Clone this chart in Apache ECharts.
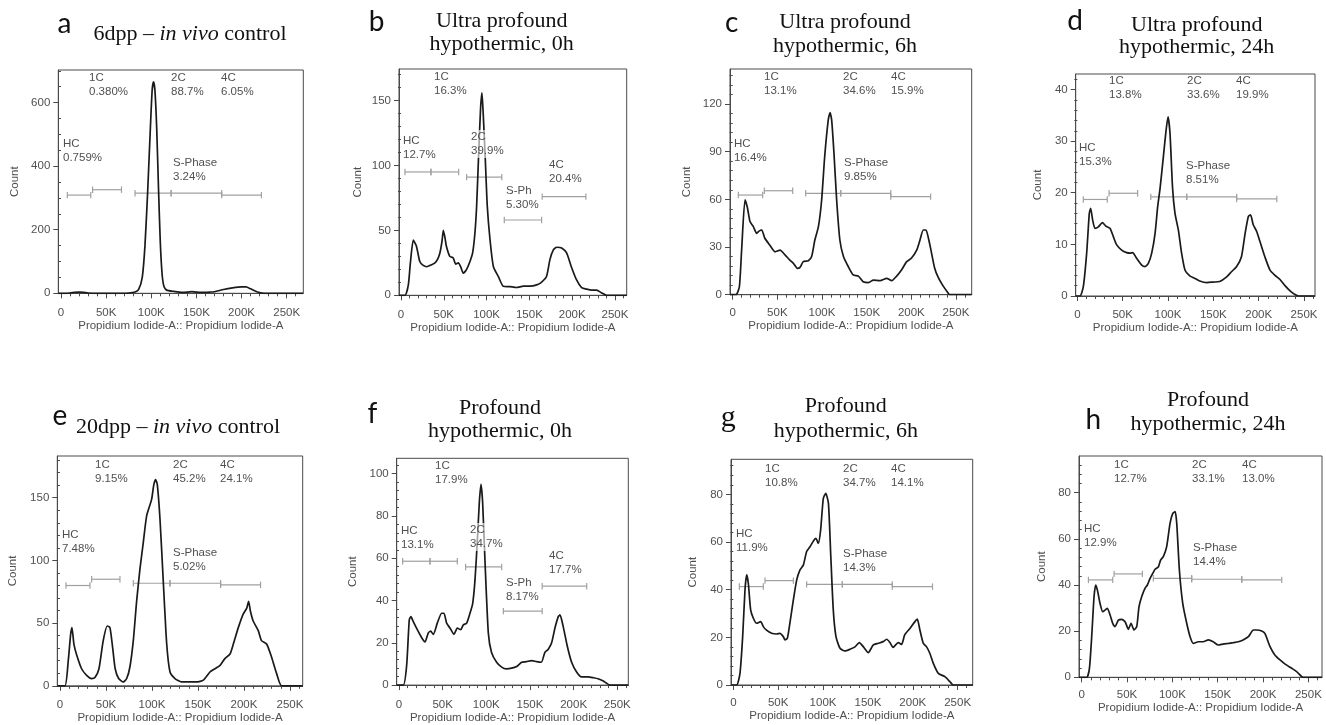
<!DOCTYPE html>
<html><head><meta charset="utf-8">
<script src="https://cdn.jsdelivr.net/npm/echarts@6/dist/echarts.min.js"></script>
<style>html,body{margin:0;padding:0;background:#fff}#chart{width:1326px;height:725px}</style>
</head><body><div id="chart"></div>
<script>
// ---------------- DATA ----------------
const panelLetters = ['a','b','c','d','e','f','g','h'];
const panelTitles = [
  ['6dpp – {i|in vivo} control'],
  ['Ultra profound','hypothermic, 0h'],
  ['Ultra profound','hypothermic, 6h'],
  ['Ultra profound','hypothermic, 24h'],
  ['20dpp – {i|in vivo} control'],
  ['Profound','hypothermic, 0h'],
  ['Profound','hypothermic, 6h'],
  ['Profound','hypothermic, 24h']
];
const xAxisName = 'Propidium Iodide-A:: Propidium Iodide-A';
const yAxisName = 'Count';
const xTickValues = [0,50,100,150,200,250];          // in K
const yTickValues = [
  [0,200,400,600],[0,50,100,150],[0,30,60,90,120],[0,10,20,30,40],
  [0,50,100,150],[0,20,40,60,80,100],[0,20,40,60,80],[0,20,40,60,80]
];

// histogram curves: [PI-A (K), count]
const curveA = [[-3,0],[5,0],[10,1],[15,3],[20,4],[25,3],[30,1],[40,0],[60,0],[75,1],[82,4],[86,12],[90,50],[93,150],[96,320],[99,520],[101,640],[102.5,665],[104,640],[106,520],[108,330],[110,160],[112,60],[114,22],[117,10],[125,6],[135,3],[145,5],[155,3],[165,4],[170,5],[180,12],[190,17],[200,20],[205,20],[210,14],[215,7],[220,2],[225,0],[268,0]];
const curveB = [[-2.3,0],[4.7,0],[8.6,8],[11,25],[14.4,42.5],[18,38],[22,26],[26,23],[30,22],[35.8,23.6],[39.7,25],[43,28],[45.6,33],[48,42],[49.5,50],[51.5,44],[53,38],[57,30],[61,28.8],[64,24],[67,25],[69.7,22],[72.8,17],[76.7,20],[80.6,26],[83.7,32.6],[86.4,48],[88.4,69],[91,113],[93,144],[94.6,156],[96,141],[98.5,105],[100.8,69],[104,43],[108,22],[113.7,14.5],[119.5,7],[127,6.7],[135,6],[143,7],[150.7,7],[158.5,8],[164,10],[170,14.5],[174,27.5],[178,35],[182,37],[187.7,36.5],[193.5,32.6],[199,22],[205,12],[211,6],[217,4.7],[223,4],[228.6,4],[234,2],[240,0],[263.7,0]];
const curveC = [[-3,0],[3.7,0],[7.5,5],[10,28],[13.8,59.6],[16.4,55],[19.4,46],[23,43],[26.9,38.6],[29.5,40],[32.5,40.7],[36,35.5],[41.8,31],[47.4,27],[53,28],[58.6,25],[64,21.8],[68,19.7],[72.4,16.6],[75.4,17.2],[79,20.8],[84.7,21.4],[88.4,24],[92,34.4],[96,42.8],[99.6,59.6],[103,86.8],[107,110],[109,114.5],[110.8,110],[113.4,89],[116.4,59.6],[120,34.4],[124,24],[129.5,17.6],[135,12.4],[140.7,11.7],[146,8.2],[152,7.6],[157.5,9.2],[165,8.8],[172.4,10.3],[178,8.8],[183.6,11.7],[189,15.5],[194.8,20.8],[200,22.9],[206,28],[209.7,34.4],[213.4,40.7],[216.4,40.7],[219,36],[222,28],[226,17],[230,11],[235,6],[240,2],[243,0],[267.6,0]];
const curveD = [[-1.8,0],[3,0],[6.6,1.8],[10.3,8.3],[13.2,16],[14.7,17],[16.9,14.7],[19.5,13.1],[23.2,13.4],[27.6,14.2],[31.6,13.5],[36,13.1],[39.7,11.5],[43.4,9.9],[48.9,8.9],[54.4,8.4],[58,8.3],[61,8.4],[65.4,7.3],[71,6],[74.6,5.7],[78.3,6.3],[82,8.3],[85.7,12.1],[88.6,17.3],[91.2,20.8],[94.9,27],[97.8,32],[100,34.7],[102.2,31.5],[105,21],[107.7,16],[111.4,12.8],[115,8.3],[118.8,5],[124,3.9],[129.8,3.4],[135,2.9],[142.6,2.6],[150,2.7],[157,2.8],[164.7,3.7],[170,4.7],[175.7,5.7],[181,7.6],[185,12.1],[188.6,15.4],[191,15.7],[194,13.8],[197.8,12.5],[201.5,10.5],[207,7.5],[212.5,5],[218,4],[223.5,3.2],[229,2],[234.6,1],[240,0.3],[244,0],[262,0]];
const curveE = [[-2.9,0],[5.4,0],[9,20],[11.6,41],[13,46.4],[15.2,33],[18,25],[23.5,13.6],[29,8.4],[34.4,5.8],[38,6.6],[42.4,13.6],[47,36],[51.4,47.7],[54.3,46.4],[57.2,30.7],[60,13.6],[63.8,5.8],[68.8,3.1],[72.5,5.8],[76,15],[79.7,36],[83.3,67.4],[87,93.6],[90.6,114.6],[94.2,135.6],[99.6,148.7],[102,160.5],[104,164.4],[105.8,160.5],[108.7,133],[112.3,83],[116,33.3],[119.6,11],[125,5.8],[132,3.1],[139.5,3.1],[148.6,3.1],[155.8,4.5],[163,11],[168.5,13.6],[174,16.3],[179,21.5],[184.8,25.4],[188.4,33.3],[193.8,46.4],[199,57],[203,62],[205,67.4],[207,59.5],[210,51.7],[215.6,43.8],[219,36],[224.6,33.3],[230,22.8],[235.5,9.7],[241,0],[263.8,0]];
const curveF = [[-2.6,0],[5,0],[8.8,9.3],[11.8,30.9],[13.7,32.4],[16.4,30],[21,26.2],[26,22.4],[29.8,20.4],[33.6,24.7],[36.3,25.5],[39.3,24],[43.9,29.3],[48.9,34],[51.5,34],[54.6,29.3],[58.4,27],[63,24],[66.8,27],[70.6,26.2],[73.7,28.5],[77.5,29.3],[81.3,34],[84.4,38.6],[87,49.4],[89.7,68],[92,86.4],[93.9,95],[95.8,86.4],[98.5,58.6],[102.3,24.7],[106,15.4],[111.8,10.8],[117.6,8.5],[123,7.7],[129,8],[134.7,8.8],[140.5,10.8],[146,11.1],[152,11.6],[157.6,11.1],[163,10.8],[167,15.4],[171,17],[174.8,20],[178.6,27],[182.4,32.4],[184.4,33.2],[188,27.8],[192.7,18.5],[197.7,10.8],[203.4,6.2],[209,3.9],[216.8,3.9],[222.5,3.5],[228,3],[234,1.9],[241.6,0],[262.6,0]];
const curveG = [[-2.6,0],[3.7,0],[7.4,4.9],[10.4,20.3],[13,39.9],[14.9,46.2],[16.7,42.7],[19.3,31.5],[22.3,28],[26,25.9],[30.5,26.6],[33.4,24.5],[37,23],[42.7,21.7],[48.3,21.4],[52,21.7],[55.7,20.3],[57.6,18.9],[60.2,19.6],[63,25.9],[66.9,35.7],[70.6,44],[74.3,48.3],[78,50.3],[81.7,56],[85.4,58],[90,60.8],[92,61.5],[94.7,59.4],[97.3,65],[100.3,78.3],[103,80.4],[106,76.2],[108.5,55.2],[111.4,31.5],[114.4,20.3],[118.9,15.4],[124.4,14.3],[130,15],[135.6,16],[140.4,17.8],[145,16],[150.4,13.6],[156,16.8],[161.6,17.5],[167,18.2],[171,19.2],[174.6,17.8],[178,15.8],[183.8,17.8],[187.6,17],[191,21],[197,23.8],[202.4,26.6],[205,27.6],[208,23],[211.7,17.5],[215.4,16],[219,13.3],[222.9,9.1],[228.5,4.9],[235.8,3.5],[241.4,1.4],[245,0],[266.8,0]];
const curveH = [[-3,0],[5.5,0],[8.5,3.9],[11,17.6],[13.6,35],[15.4,40],[17.3,37.8],[20.2,32],[23.2,28.4],[26,29.2],[28.3,29.9],[31.3,27],[34.2,23.4],[36.8,22],[40.4,24.8],[44,25.1],[47.8,24.1],[51.5,20.8],[54.4,23.4],[57.7,20.5],[60.7,22],[63.2,30.6],[66.2,35],[69.9,38.6],[72.4,40],[75.4,42.9],[78.3,45],[80.9,46.8],[84.6,47.9],[87,50.8],[90,52.3],[93.7,56.6],[97.4,66.7],[100.4,71],[103,71.8],[104.8,66.7],[107.7,46.5],[111.4,32],[115.8,23.4],[119.5,17.6],[123,14.7],[128.7,15.4],[134,15.4],[139.7,16.2],[145,15.4],[150.7,14],[156,14.4],[161.8,14.7],[167,15],[172.8,15.4],[178,16.2],[183.8,17.6],[189.3,20.5],[193,20.5],[198.5,20.1],[202,19],[207.7,13.3],[213,9.7],[218.7,7.5],[224,5.8],[231.6,3.9],[237,2.5],[242.6,0.3],[244.5,0],[265,0]];
const curves = [curveA,curveB,curveC,curveD,curveE,curveF,curveG,curveH];

// gates: names, percentages, ranges [from K, to K, count level]
const gateNames = [
  ['HC','1C','2C','S-Phase','4C'],['HC','1C','2C','S-Ph','4C'],['HC','1C','2C','S-Phase','4C'],['HC','1C','2C','S-Phase','4C'],
  ['HC','1C','2C','S-Phase','4C'],['HC','1C','2C','S-Ph','4C'],['HC','1C','2C','S-Phase','4C'],['HC','1C','2C','S-Phase','4C']
];
const gatePercents = [
  ['0.759%','0.380%','88.7%','3.24%','6.05%'],
  ['12.7%','16.3%','39.9%','5.30%','20.4%'],
  ['16.4%','13.1%','34.6%','9.85%','15.9%'],
  ['15.3%','13.8%','33.6%','8.51%','19.9%'],
  ['7.48%','9.15%','45.2%','5.02%','24.1%'],
  ['13.1%','17.9%','34.7%','8.17%','17.7%'],
  ['11.9%','10.8%','34.7%','14.3%','14.1%'],
  ['12.9%','12.7%','33.1%','14.4%','13.0%']
];
const gateRanges = [
  [[7,33,309],[35,67,326],[82,122,315],[122,178,315],[178,222,309]],
  [[4.7,35,95],[35,67.4,95],[76.7,117.8,91],[120.7,164.3,58],[165,216,76]],
  [[6.3,33.6,62.7],[35.4,67.2,65.4],[81.7,121,63.8],[121,177,63.8],[177,221.6,61.7]],
  [[6.6,33,18.7],[35,66.5,19.9],[81,120.6,19.2],[120.6,175.7,19.2],[175.7,220,18.8]],
  [[6.5,32.6,80],[34.4,65.2,85],[79.7,119.6,81.8],[119.6,174.6,81.8],[174.6,218,80.5]],
  [[4.2,35.5,58.6],[35.5,66.8,58.6],[76.3,117.6,55.9],[119.5,164,35],[164,215,46.8]],
  [[6.7,33.4,41.3],[35.3,66.9,43.8],[81.7,121.5,42.2],[121.5,177.2,42.2],[177.2,222,41.3]],
  [[7.4,34.2,42.2],[35.7,66.9,44.8],[79,121.3,42.9],[121.3,176.5,42.5],[176.5,220.6,42.2]]
];

// ---------------- LAYOUT (pixels) ----------------
const layout = [
  {grid:[58.3,70,245,223.3],   x:[-3,268.4],  yMax:702.6, yMinor:50, xGap:23.5, yGap:37, lm:14,  letter:[64.5,24], title:[[190,34]],              labels:[[63,143],[89,77],[171,77],[173,162],[221,77]]},
  {grid:[399,69,227.7,226.3],  x:[-2.3,263.7],yMax:174.3, yMinor:10, xGap:23,   yGap:35, lm:13.7,letter:[376.7,22], title:[[501.7,21.1],[501.7,44.1]], labels:[[403,140],[434,76],[471,136],[506,190],[549,164]]},
  {grid:[730,69,241.7,225.7],  x:[-3,267.6],  yMax:142,   yMinor:6,  xGap:22,   yGap:37, lm:12.6,letter:[731.7,23], title:[[845,22.7],[845,46.1]],     labels:[[734,143],[764,76],[843,76],[844,162],[891,76]]},
  {grid:[1075.7,74,239.3,222], x:[-1.8,262.1],yMax:43,    yMinor:2,  xGap:21,   yGap:32, lm:13,  letter:[1075,20.5],title:[[1196.7,25.1],[1196.7,47.7]],labels:[[1079,147],[1109,80],[1187,80],[1186,165],[1236,80]]},
  {grid:[57.3,456,245.4,233],  x:[-2.9,263.8],yMax:183.3, yMinor:10, xGap:19,   yGap:38, lm:13.3,letter:[60,416],   title:[[178,427.5]],               labels:[[62,534],[95,464],[173,464],[173,552],[220,464]]},
  {grid:[396.7,458.3,231.6,231.7],x:[-2.6,262.6],yMax:107.3,yMinor:4,xGap:20.7, yGap:38, lm:14,  letter:[372.3,413.5],title:[[500,408.4],[500,431.7]], labels:[[401,530],[435,465],[470,529],[506,582],[549,555]]},
  {grid:[731,459.3,241.7,225.7],x:[-2.6,266.8],yMax:94.7, yMinor:4,  xGap:19,   yGap:32, lm:12.3,letter:[728.3,418],title:[[845.8,406.7],[845.8,431.7]],labels:[[736,533],[765,468],[843,468],[843,553],[891,468]]},
  {grid:[1079,456,243,221.3],  x:[-3,265],    yMax:95.9,  yMinor:4,  xGap:18.4, yGap:31, lm:11.7,letter:[1093.3,420],title:[[1208,400.1],[1208,424.4]],labels:[[1084,528],[1114,464],[1192,464],[1193,547],[1242,464]]}
];

const SANS = '"Liberation Sans", Arial, sans-serif';
const AX = '#4a4a4a';
const TXT = '#505050';

function minorValues(lo, hi, step, majors) {
  const out = [];
  for (let v = step; v <= hi + 1e-9; v += step) {
    const r = Math.round(v * 1000) / 1000;
    if (!majors.some(m => Math.abs(m - r) < 1e-6)) out.push(r);
  }
  return out;
}

function renderGate(params, api) {
  const x1 = api.value(0), x2 = api.value(1), y = api.value(2);
  const p1 = api.coord([x1, y]), p2 = api.coord([x2, y]);
  const h = 3.2;
  const st = {stroke: '#a0a0a0', lineWidth: 1.2};
  return {type: 'group', children: [
    {type: 'line', shape: {x1: p1[0], y1: p1[1], x2: p2[0], y2: p2[1]}, style: st},
    {type: 'line', shape: {x1: p1[0], y1: p1[1] - h, x2: p1[0], y2: p1[1] + h}, style: st},
    {type: 'line', shape: {x1: p2[0], y1: p2[1] - h, x2: p2[0], y2: p2[1] + h}, style: st}
  ]};
}

const grids = [], xAxes = [], yAxes = [], series = [], graphics = [];
layout.forEach((L, i) => {
  grids.push({left: L.grid[0], top: L.grid[1], width: L.grid[2], height: L.grid[3],
    show: true, borderColor: AX, borderWidth: 1, backgroundColor: 'transparent'});
  const xi = xAxes.length, yi = yAxes.length;
  const xMinor = minorValues(0, 260, 10, xTickValues);
  const yMaj = yTickValues[i];
  const yMinorVals = minorValues(0, L.yMax, L.yMinor, yMaj);
  xAxes.push({type: 'value', gridIndex: i, position: 'bottom', min: L.x[0], max: L.x[1],
    name: xAxisName, nameLocation: 'middle', nameGap: L.xGap,
    nameTextStyle: {color: TXT, fontSize: 11.5, fontFamily: SANS},
    axisLine: {show: true, onZero: false, lineStyle: {color: AX, width: 1}},
    axisTick: {show: true, length: 5, customValues: xTickValues, lineStyle: {color: AX}},
    axisLabel: {show: true, customValues: xTickValues, margin: L.lm, color: TXT, fontSize: 11.5, fontFamily: SANS,
      formatter: v => v === 0 ? '0' : v + 'K'},
    splitLine: {show: false}});
  xAxes.push({type: 'value', gridIndex: i, position: 'bottom', min: L.x[0], max: L.x[1],
    axisLine: {show: false}, axisLabel: {show: false}, splitLine: {show: false},
    axisTick: {show: true, length: 3, customValues: xMinor, lineStyle: {color: AX}}});
  yAxes.push({type: 'value', gridIndex: i, position: 'left', min: 0, max: L.yMax,
    name: yAxisName, nameLocation: 'middle', nameGap: L.yGap, nameRotate: 90,
    nameTextStyle: {color: TXT, fontSize: 11.5, fontFamily: SANS},
    axisLine: {show: true, onZero: false, lineStyle: {color: AX, width: 1}},
    axisTick: {show: true, length: 5, customValues: yMaj, lineStyle: {color: AX}},
    axisLabel: {show: true, customValues: yMaj, margin: 8, color: TXT, fontSize: 11.5, fontFamily: SANS},
    splitLine: {show: false}});
  yAxes.push({type: 'value', gridIndex: i, position: 'left', min: 0, max: L.yMax,
    axisLine: {show: false}, axisLabel: {show: false}, splitLine: {show: false},
    axisTick: {show: true, length: 3, customValues: yMinorVals, lineStyle: {color: AX}}});

  series.push({type: 'custom', xAxisIndex: xi, yAxisIndex: yi, data: gateRanges[i],
    renderItem: renderGate, silent: true, z: 2, clip: false});
  series.push({type: 'line', xAxisIndex: xi, yAxisIndex: yi, data: curves[i],
    smooth: 0.2, showSymbol: false, symbol: 'none', silent: true, z: 3,
    lineStyle: {color: '#1a1a1a', width: 1.7}});

  // panel letter
  const isG = panelLetters[i] === 'g';
  graphics.push({type: 'text', x: L.letter[0], y: L.letter[1], z: 10,
    style: {text: panelLetters[i], fill: '#111',
      font: isG ? '30px "Liberation Serif"' : '28px Lato',
      fontSize: isG ? 30 : 28, fontFamily: isG ? 'Liberation Serif' : 'Lato',
      align: 'center', textAlign: 'center', verticalAlign: 'middle', textVerticalAlign: 'middle'}});
  // titles
  panelTitles[i].forEach((t, k) => {
    graphics.push({type: 'text', x: L.title[k][0], y: L.title[k][1], z: 10,
      style: {text: t, fill: '#111', font: '22px "Liberation Serif"', fontSize: 22, fontFamily: 'Liberation Serif',
        align: 'center', textAlign: 'center', verticalAlign: 'middle', textVerticalAlign: 'middle',
        rich: {i: {fontStyle: 'italic', fontSize: 22, fontFamily: 'Liberation Serif', fill: '#111', color: '#111'}}}});
  });
  // gate labels
  gateNames[i].forEach((nm, k) => {
    const pos = L.labels[k];
    const boxed = nm === '2C' && (i === 1 || i === 5);
    const st = {text: nm + '\n' + gatePercents[i][k], fill: TXT, font: '11.5px "Liberation Sans"',
      fontSize: 11.5, fontFamily: 'Liberation Sans', lineHeight: 14,
      align: 'left', textAlign: 'left', verticalAlign: 'top', textVerticalAlign: 'top'};
    if (boxed) { st.backgroundColor = 'rgba(255,255,255,0.6)'; st.padding = [0, 2]; }
    graphics.push({type: 'text', x: pos[0] - (boxed ? 2 : 0), y: pos[1] - 6, z: 11, style: st});
  });
});

const chart = echarts.init(document.getElementById('chart'), null, {renderer: 'canvas'});
chart.setOption({
  animation: false,
  backgroundColor: '#fff',
  grid: grids, xAxis: xAxes, yAxis: yAxes, series: series,
  graphic: {elements: graphics}
});
</script></body></html>
